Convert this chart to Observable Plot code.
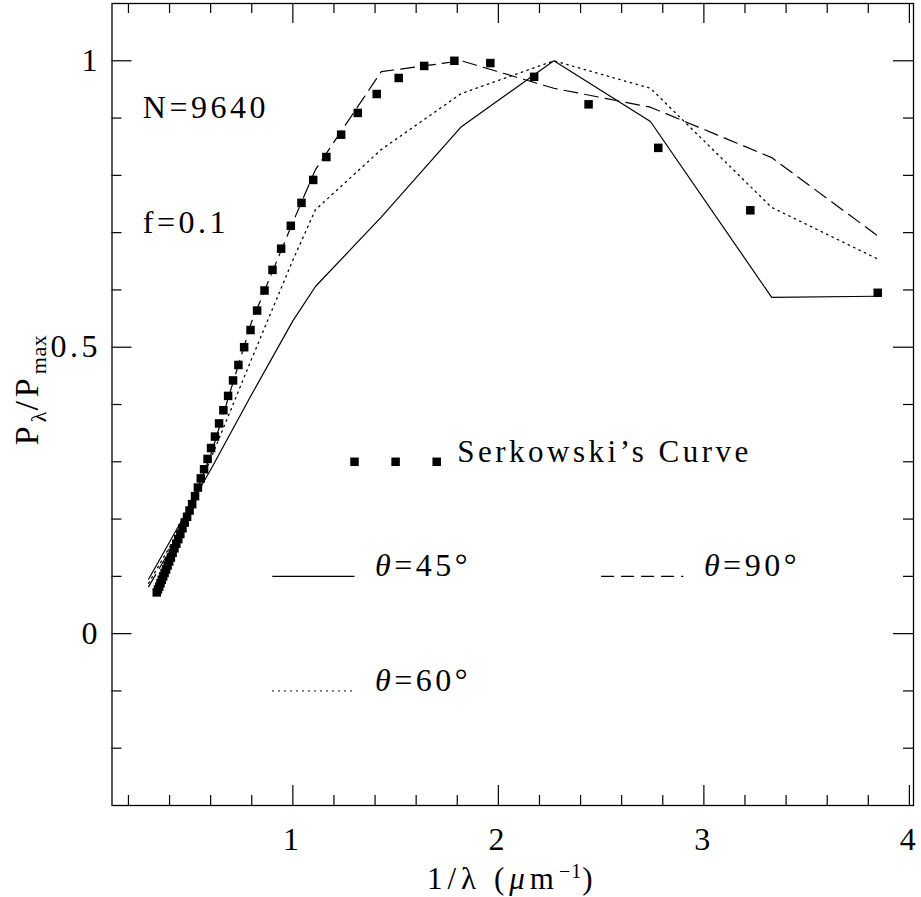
<!DOCTYPE html>
<html><head><meta charset="utf-8">
<script src="https://cdn.jsdelivr.net/npm/d3@7"></script>
<script src="https://cdn.jsdelivr.net/npm/@observablehq/plot@0.6"></script>
<style>html,body{margin:0;padding:0;background:#fff}svg{display:block}</style>
</head><body><div id="chart"></div>
<script>
// Serkowski's curve (1/lambda in um^-1, P/Pmax)
const serkX = [3.846, 3.226, 2.778, 2.439, 2.174, 1.961, 1.786, 1.639, 1.515, 1.408, 1.316, 1.235, 1.163, 1.099, 1.042, 0.990, 0.943, 0.901, 0.862, 0.826, 0.794, 0.763, 0.735, 0.709, 0.685, 0.662, 0.641, 0.621, 0.602, 0.585, 0.568, 0.552, 0.538, 0.524, 0.510, 0.4975, 0.4854, 0.4739, 0.4630, 0.4525, 0.4425, 0.4329, 0.4237, 0.4149, 0.4065, 0.3984, 0.3906, 0.3831, 0.3759, 0.3690, 0.3623, 0.3559, 0.3497, 0.3436, 0.3378];
const serkY = [0.595, 0.739, 0.848, 0.924, 0.972, 0.996, 1.0, 0.991, 0.970, 0.942, 0.909, 0.871, 0.832, 0.792, 0.752, 0.712, 0.672, 0.635, 0.599, 0.564, 0.530, 0.500, 0.469, 0.442, 0.415, 0.390, 0.367, 0.344, 0.324, 0.305, 0.287, 0.271, 0.255, 0.240, 0.226, 0.215, 0.204, 0.194, 0.184, 0.174, 0.165, 0.157, 0.149, 0.141, 0.133, 0.126, 0.119, 0.112, 0.106, 0.100, 0.094, 0.088, 0.082, 0.077, 0.072];

// Model curves
const modelX  = [0.298, 0.455, 0.606, 0.8, 1.0, 1.11, 1.43, 1.82, 2.27, 2.74, 3.33, 3.84];
const theta45 = [0.095, 0.195, 0.290, 0.418, 0.546, 0.606, 0.727, 0.885, 1.0, 0.894, 0.587, 0.589];
const theta60 = [0.088, 0.185, 0.310, 0.480, 0.652, 0.740, 0.845, 0.943, 1.0, 0.952, 0.744, 0.655];
const theta90 = [0.082, 0.178, 0.318, 0.545, 0.718, 0.810, 0.981, 1.0, 0.952, 0.919, 0.831, 0.696];

// Ticks
const xMajor = [1, 2, 3, 4];
const xMinor = [0.2, 0.4, 0.6, 0.8, 1.2, 1.4, 1.6, 1.8, 2.2, 2.4, 2.6, 2.8, 3.2, 3.4, 3.6, 3.8];
const yMajor = [0, 0.5, 1];
const yMinor = [-0.2, -0.1, 0.1, 0.2, 0.3, 0.4, 0.6, 0.7, 0.8, 0.9];

// Texts
const notes = ["N=9640", "f=0.1"];
const legendLabels = ["Serkowski\u2019s Curve", "θ=45°", "θ=90°", "θ=60°"];

// ---- build tables ----
const serk = serkX.map((x, i) => ({x, y: serkY[i]}));
const models = modelX.map((x, i) => ({x, a: theta45[i], b: theta60[i], c: theta90[i]}));

// layout (data coordinates for annotations / legend)
const noteX = 0.27, noteY = [0.9, 0.7];
const legSq = [1.3, 1.5, 1.7].map(x => ({x, y: 0.3}));
const legLines = [
  {x1: 0.9, x2: 1.3, y: 0.1, tx: 1.4, label: legendLabels[1], dash: null},
  {x1: 2.5, x2: 2.9, y: 0.1, tx: 3.0, label: legendLabels[2], dash: "13,7"},
  {x1: 0.9, x2: 1.3, y: -0.1, tx: 1.4, label: legendLabels[3], dash: "1.5,4.5"}
];

const W = 921, H = 897;
const mL = 111.5, mR = 8, mT = 3, mB = 92;
const innerH = H - mT - mB, innerW = W - mL - mR;
const FS = 32;

const chart = Plot.plot({
  width: W, height: H,
  marginLeft: mL, marginRight: mR, marginTop: mT, marginBottom: mB,
  style: {fontFamily: "'Liberation Serif', serif", fontSize: FS + "px", letterSpacing: "3.5px", background: "white", color: "black"},
  x: {domain: [0.12, 4.02]},
  y: {domain: [-0.3, 1.1]},
  marks: [
    Plot.frame({stroke: "black", strokeWidth: 1.3}),
    // inward ticks
    Plot.ruleX(xMajor, {x: d => d, insetTop: innerH - 20, stroke: "black", strokeWidth: 1.2}),
    Plot.ruleX(xMajor, {x: d => d, insetBottom: innerH - 20, stroke: "black", strokeWidth: 1.2}),
    Plot.ruleX(xMinor, {x: d => d, insetTop: innerH - 10, stroke: "black", strokeWidth: 1.2}),
    Plot.ruleX(xMinor, {x: d => d, insetBottom: innerH - 10, stroke: "black", strokeWidth: 1.2}),
    Plot.ruleY(yMajor, {y: d => d, insetRight: innerW - 20, stroke: "black", strokeWidth: 1.2}),
    Plot.ruleY(yMajor, {y: d => d, insetLeft: innerW - 20, stroke: "black", strokeWidth: 1.2}),
    Plot.ruleY(yMinor, {y: d => d, insetRight: innerW - 10, stroke: "black", strokeWidth: 1.2}),
    Plot.ruleY(yMinor, {y: d => d, insetLeft: innerW - 10, stroke: "black", strokeWidth: 1.2}),
    // tick labels
    Plot.axisX({ticks: xMajor, tickSize: 0, tickPadding: 22, tickFormat: d => String(d), label: null, fontSize: FS}),
    Plot.axisY({ticks: yMajor, tickSize: 0, tickPadding: 11, tickFormat: d => String(d), label: null, fontSize: FS}),
    // model lines
    Plot.line(models, {x: "x", y: "a", stroke: "black", strokeWidth: 1.2}),
    Plot.line(models, {x: "x", y: "b", stroke: "black", strokeWidth: 1.3, strokeDasharray: "1.5,4.5"}),
    Plot.line(models, {x: "x", y: "c", stroke: "black", strokeWidth: 1.2, strokeDasharray: "14,7"}),
    // Serkowski points
    Plot.dot(serk, {x: "x", y: "y", symbol: "square", r: 4.8, fill: "black", stroke: null}),
    // annotations
    Plot.text(notes, {x: () => noteX, y: (d, i) => noteY[i], text: d => d, textAnchor: "start", lineAnchor: "bottom", fontSize: FS, fill: "black"}),
    // legend
    Plot.dot(legSq, {x: "x", y: "y", symbol: "square", r: 4.8, fill: "black", stroke: null}),
    Plot.text([legendLabels[0]], {x: () => 1.8, y: () => 0.3, text: d => d, textAnchor: "start", lineAnchor: "bottom", fontSize: 31, fill: "black", letterSpacing: "4.2px"}),
    Plot.link(legLines.filter(d => !d.dash), {x1: "x1", x2: "x2", y1: "y", y2: "y", stroke: "black", strokeWidth: 1.2}),
    Plot.link(legLines.filter(d => d.dash === "13,7"), {x1: "x1", x2: "x2", y1: "y", y2: "y", stroke: "black", strokeWidth: 1.2, strokeDasharray: "13,7"}),
    Plot.link(legLines.filter(d => d.dash === "1.5,4.5"), {x1: "x1", x2: "x2", y1: "y", y2: "y", stroke: "black", strokeWidth: 1.3, strokeDasharray: "1.5,4.5"}),
    Plot.text(legLines, {x: "tx", y: "y", text: "label", textAnchor: "start", lineAnchor: "bottom", fontSize: FS, fill: "black", letterSpacing: "3px"})
  ]
});

// italic theta in legend labels
d3.select(chart).selectAll("text").each(function () {
  const t = this.textContent;
  if (t && t.startsWith("θ") && !this.querySelector("tspan")) {
    this.textContent = "";
    const s = d3.select(this);
    s.append("tspan").attr("font-style", "italic").text("θ");
    s.append("tspan").text(t.slice(1));
  }
});

// axis titles with sub/superscripts
const xs = chart.scale("x"), ys = chart.scale("y");
const cx = (xs.range[0] + xs.range[1]) / 2;
const cy = (ys.range[0] + ys.range[1]) / 2;
const svg = d3.select(chart);
const xl = svg.append("text").attr("x", cx).attr("y", H - 8).attr("text-anchor", "middle").attr("font-size", 31).attr("fill", "black").style("letter-spacing", "5px");
xl.append("tspan").text("1/λ (");
xl.append("tspan").attr("font-style", "italic").text("μ");
xl.append("tspan").text("m");
xl.append("tspan").attr("font-size", 20).attr("dy", -11).style("letter-spacing", "1px").text("−1");
xl.append("tspan").attr("font-size", 31).attr("dy", 11).text(")");

const yl = svg.append("text").attr("transform", `translate(38,${cy - 14}) rotate(-90)`).attr("text-anchor", "middle").attr("font-size", 34).attr("fill", "black").style("letter-spacing", "4px");
yl.append("tspan").text("P");
yl.append("tspan").attr("font-size", 22).attr("dy", 8).style("letter-spacing", "1px").text("λ");
yl.append("tspan").attr("font-size", 34).attr("dy", -8).style("letter-spacing", "4px").text("/P");
yl.append("tspan").attr("font-size", 22).attr("dy", 8).style("letter-spacing", "0.5px").text("max");

document.getElementById("chart").appendChild(chart);
</script>
</body></html>
